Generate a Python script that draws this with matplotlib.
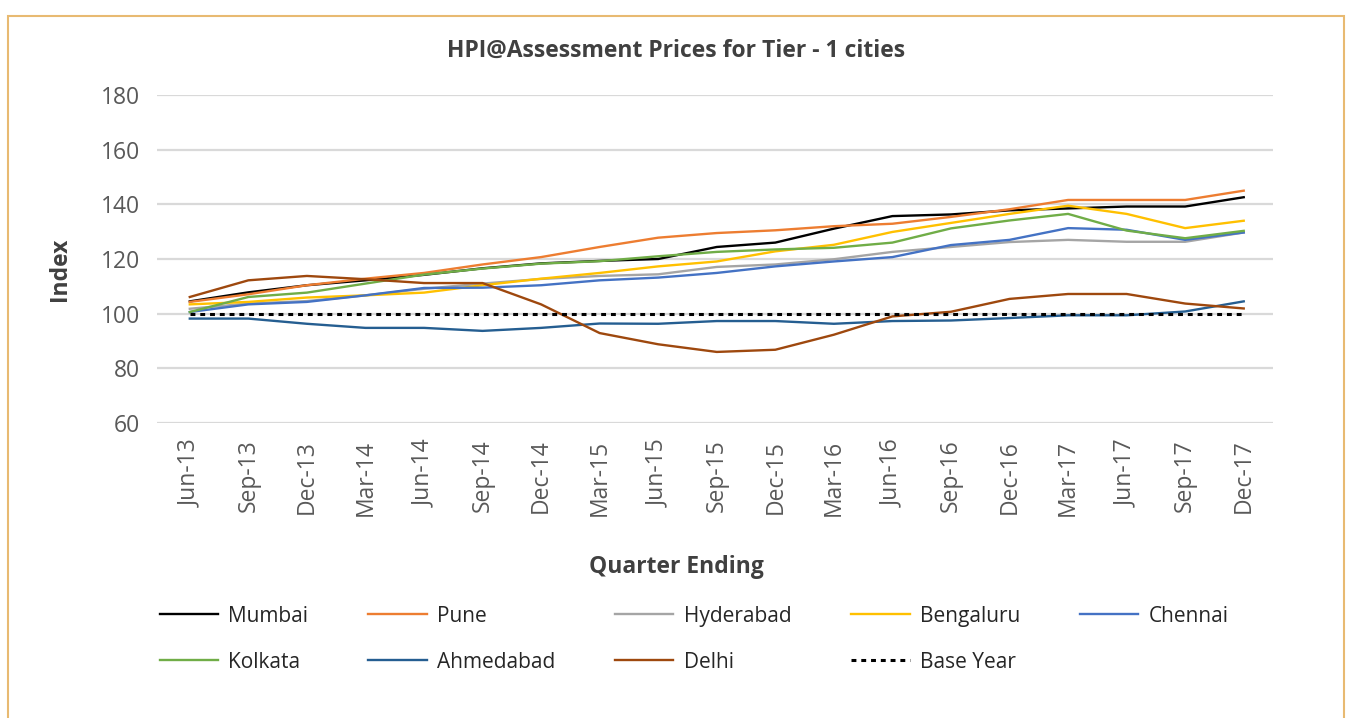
import matplotlib.pyplot as plt
from matplotlib.patches import Rectangle

plt.rcParams['font.family'] = ['Open Sans', 'DejaVu Sans']

quarters = ['Jun-13', 'Sep-13', 'Dec-13', 'Mar-14', 'Jun-14', 'Sep-14', 'Dec-14',
            'Mar-15', 'Jun-15', 'Sep-15', 'Dec-15', 'Mar-16', 'Jun-16', 'Sep-16',
            'Dec-16', 'Mar-17', 'Jun-17', 'Sep-17', 'Dec-17']

mumbai = [104.5, 107.8, 110.4, 112.2, 114.2, 116.6, 118.4, 119.3, 120.0, 124.4, 126.0,
          131.1, 135.7, 136.3, 137.8, 138.5, 139.2, 139.2, 142.6]
pune = [104.3, 107.1, 110.4, 112.8, 114.9, 118.0, 120.7, 124.4, 127.8, 129.5, 130.5,
        132.0, 132.9, 135.4, 138.2, 141.6, 141.6, 141.6, 145.0]
hyderabad = [101.8, 103.7, 104.6, 106.7, 109.1, 111.0, 112.7, 113.8, 114.4, 117.1, 118.0,
             119.9, 122.6, 124.4, 126.2, 127.0, 126.3, 126.3, 129.7]
bengaluru = [103.4, 104.3, 105.9, 106.7, 107.7, 110.4, 112.8, 114.9, 117.3, 119.1, 122.8,
             125.2, 129.9, 133.2, 136.5, 139.5, 136.5, 131.3, 134.0]
chennai = [100.6, 103.4, 104.3, 106.7, 109.4, 109.5, 110.4, 112.2, 113.2, 114.9, 117.3,
           119.1, 120.7, 125.1, 127.0, 131.3, 130.7, 127.0, 129.7]
kolkata = [100.6, 106.1, 107.7, 111.0, 114.3, 116.5, 118.3, 119.2, 121.0, 122.6, 123.5,
           124.1, 126.0, 131.2, 134.1, 136.5, 130.4, 127.6, 130.3]
ahmedabad = [98.2, 98.2, 96.3, 94.8, 94.8, 93.7, 94.8, 96.4, 96.3, 97.3, 97.3,
             96.3, 97.3, 97.5, 98.4, 99.4, 99.4, 100.8, 104.5]
delhi = [106.1, 112.2, 113.8, 112.6, 111.2, 111.2, 103.4, 92.9, 88.8, 86.0, 86.8,
         92.3, 99.0, 100.7, 105.4, 107.2, 107.2, 103.7, 101.9]
base_year = [100] * len(quarters)

series = [('Mumbai', mumbai, '#000000'), ('Pune', pune, '#ED7D31'),
          ('Hyderabad', hyderabad, '#A5A5A5'), ('Bengaluru', bengaluru, '#FFC000'),
          ('Chennai', chennai, '#4472C4'), ('Kolkata', kolkata, '#70AD47'),
          ('Ahmedabad', ahmedabad, '#255E91'), ('Delhi', delhi, '#9E480E')]

W, H = 1349, 718
fig = plt.figure(figsize=(W / 100, H / 100), dpi=100)
ax = fig.add_axes([157 / W, 1 - 423 / H, (1273 - 157) / W, (423 - 95) / H])

x = list(range(len(quarters)))
lines = {}
for name, vals, col in series:
    lines[name], = ax.plot(x, vals, color=col, lw=1.7, label=name)
lines['Base Year'], = ax.plot(x, base_year, color='black', lw=2.2, ls=(0, (1.6, 1.6)),
                              label='Base Year')

ax.set_ylim(60, 180)
ax.set_yticks(range(60, 181, 20))
ax.set_xlim(-0.56, 18.5)
ax.set_xticks(x)
ax.set_xticklabels(quarters, rotation=90)
ax.tick_params(length=0, labelsize=16.5, labelcolor='#595959')
ax.tick_params(axis='y', pad=12)
ax.tick_params(axis='x', pad=12)
ax.grid(axis='y', color='#D9D9D9', lw=1.6)
ax.set_axisbelow(True)
for s in ax.spines.values():
    s.set_visible(False)

ax.set_ylabel('Index', fontsize=16.5, fontweight='bold', color='#404040')
ax.yaxis.set_label_coords((72 - 157) / 1116, 0.47)
ax.set_xlabel('Quarter Ending', fontsize=16.5, fontweight='bold', color='#404040')
ax.xaxis.set_label_coords((676 - 157) / 1116, (423 - 555) / 328)

fig.text(676 / W, 1 - 51 / H, 'HPI@Assessment Prices for Tier - 1 cities',
         ha='center', va='center', fontsize=16.5, fontweight='bold', color='#404040')

# legend fills column by column, so order for row-major look
order = ['Mumbai', 'Kolkata', 'Pune', 'Ahmedabad', 'Hyderabad', 'Delhi',
         'Bengaluru', 'Base Year', 'Chennai']
leg = fig.legend([lines[n] for n in order], order, ncol=5, loc='upper left',
                 bbox_to_anchor=(141 / W, 1 - 587 / H), frameon=False,
                 fontsize=15, handlelength=2.8, handletextpad=0.5,
                 columnspacing=2.87, labelspacing=1.2)
for t in leg.get_texts():
    t.set_color('#262626')

fig.patches.append(Rectangle((8, -10), 1336, H - 8 + 10 - 8, transform=None,
                             fill=False, edgecolor='#E8BA72', lw=1.5))

fig.savefig('out.png', dpi=100)
